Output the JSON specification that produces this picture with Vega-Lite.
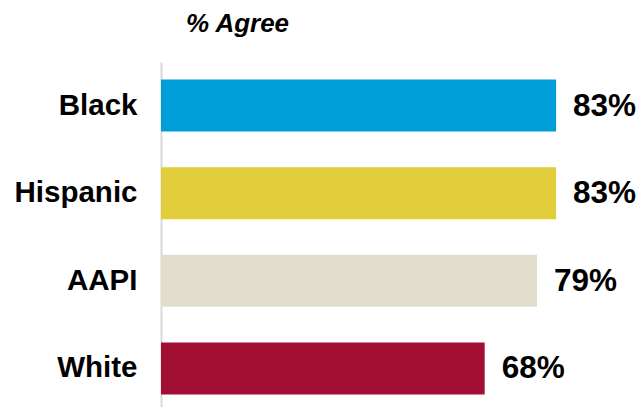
{
  "$schema": "https://vega.github.io/schema/vega-lite/v6.json",
  "autosize": "none",
  "padding": {"left": 161, "top": 62, "right": 4, "bottom": 0},
  "width": 476,
  "height": 350,
  "background": "white",
  "config": {"view": {"stroke": null}, "font": "Liberation Sans"},
  "title": {
    "text": "% Agree",
    "anchor": "start",
    "frame": "group",
    "dx": 25,
    "offset": 4,
    "baseline": "alphabetic",
    "fontSize": 26,
    "fontStyle": "italic",
    "fontWeight": "bold",
    "color": "#000000",
    "font": "Liberation Sans"
  },
  "data": {
    "values": [
      {"group": "Black", "value": 0.83},
      {"group": "Hispanic", "value": 0.83},
      {"group": "AAPI", "value": 0.79},
      {"group": "White", "value": 0.68}
    ]
  },
  "encoding": {
    "y": {
      "field": "group",
      "type": "nominal",
      "sort": ["Black", "Hispanic", "AAPI", "White"],
      "scale": {"paddingInner": 0.406, "paddingOuter": 0.2},
      "axis": {
        "title": null,
        "ticks": false,
        "domain": true,
        "domainColor": "#d9d9d9",
        "domainWidth": 2,
        "labelFontSize": 29.5,
        "labelFontWeight": "bold",
        "labelColor": "#000000",
        "labelPadding": 24,
        "labelFont": "Liberation Sans"
      }
    },
    "x": {
      "field": "value",
      "type": "quantitative",
      "scale": {"domain": [0, 1]},
      "axis": null
    }
  },
  "layer": [
    {
      "mark": {"type": "bar"},
      "encoding": {
        "color": {
          "field": "group",
          "type": "nominal",
          "scale": {
            "domain": ["Black", "Hispanic", "AAPI", "White"],
            "range": ["#009ED9", "#E1CC3B", "#E3DDCE", "#A30F33"]
          },
          "legend": null
        }
      }
    },
    {
      "mark": {
        "type": "text",
        "align": "left",
        "baseline": "middle",
        "dx": 17,
        "dy": 1,
        "fontSize": 31.5,
        "fontWeight": "bold",
        "color": "#000000",
        "font": "Liberation Sans"
      },
      "encoding": {
        "text": {"field": "value", "type": "quantitative", "format": ".0%"}
      }
    }
  ]
}
